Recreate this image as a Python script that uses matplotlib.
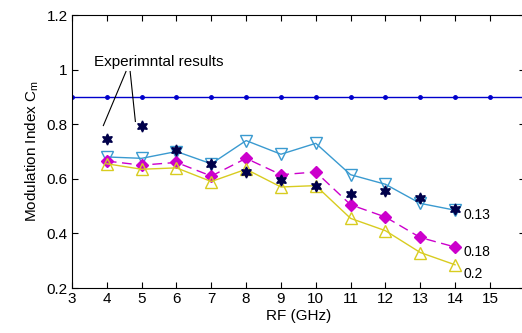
import matplotlib
matplotlib.use("Agg")
import matplotlib.pyplot as plt
import numpy as np

plt.rcParams['font.family'] = ['Liberation Sans', 'DejaVu Sans']

rf = [4, 5, 6, 7, 8, 9, 10, 11, 12, 13, 14]
ref_x = [3, 4, 5, 6, 7, 8, 9, 10, 11, 12, 13, 14, 15]
ref_y = [0.9] * 13
cm_013 = [0.68, 0.675, 0.70, 0.655, 0.74, 0.69, 0.73, 0.615, 0.58, 0.51, 0.485]
cm_018 = [0.665, 0.65, 0.66, 0.61, 0.675, 0.615, 0.625, 0.505, 0.46, 0.385, 0.35]
cm_020 = [0.655, 0.635, 0.64, 0.59, 0.635, 0.57, 0.575, 0.455, 0.41, 0.33, 0.285]
exp_cm = [0.745, 0.795, 0.705, 0.655, 0.625, 0.595, 0.575, 0.545, 0.555, 0.53, 0.49]
xticks = [3, 4, 5, 6, 7, 8, 9, 10, 11, 12, 13, 14, 15]
yticks = [0.2, 0.4, 0.6, 0.8, 1.0, 1.2]
ytick_labels = ['0.2', '0.4', '0.6', '0.8', '1', '1.2']

fig = plt.figure(figsize=(5.22, 3.33), dpi=100)
ax = fig.add_axes([72/522, 45/333, (524.7-72)/522, (288-15)/333])

ax.axhline(0.9, color='#0000cc', lw=1.0)
ax.plot(ref_x, ref_y, ls='none', marker='o', ms=2.5, color='#0000cc')
ax.plot(rf, cm_013, color='#3a9ad0', lw=1.0, marker='v', ms=8, mfc='none', mec='#3a9ad0')
ax.plot(rf, cm_018, color='#cc00cc', lw=1.0, ls=(0, (7, 4)), marker='D', ms=6.5, mfc='#cc00cc', mec='#cc00cc')
ax.plot(rf, cm_020, color='#d8cc20', lw=1.0, marker='^', ms=8, mfc='none', mec='#d8cc20')
ax.plot(rf, exp_cm, ls='none', marker=(6, 1, 0), ms=8, color='#00004a')

ax.text(14.25, 0.468, '0.13', fontsize=10, va='center')
ax.text(14.25, 0.332, '0.18', fontsize=10, va='center')
ax.text(14.25, 0.252, '0.2', fontsize=10, va='center')

ax.text(5.5, 1.028, 'Experimntal results', fontsize=11, ha='center', va='center')
ax.plot([4.55, 3.9], [0.993, 0.795], color='black', lw=0.8)
ax.plot([4.67, 4.82], [0.993, 0.81], color='black', lw=0.8)

ax.set_xlim(3, 16)
ax.set_ylim(0.2, 1.2)
ax.set_xticks(xticks)
ax.set_yticks(yticks)
ax.set_yticklabels(ytick_labels)
ax.tick_params(direction='in', top=True, right=True, labelsize=11, length=4, pad=3)
ax.set_xlabel('RF (GHz)', fontsize=11, labelpad=2)
ax.set_ylabel('Modulation Index C$_\\mathregular{m}$', fontsize=11)
for s in ax.spines.values():
    s.set_linewidth(0.8)

fig.savefig('out.png', dpi=100)
